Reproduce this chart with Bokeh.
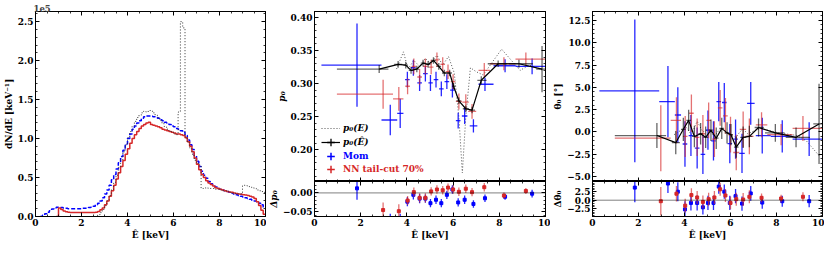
import numpy as np
from bokeh.plotting import figure
from bokeh.layouts import row, column
from bokeh.models import (FixedTicker, LinearAxis, Range1d, Legend, LegendItem,
                          Span, ColumnDataSource, CustomJSTickFormatter)
from bokeh.embed import file_html
from bokeh.resources import INLINE

nan = float("nan")

# ---------------- spectra (0.1 keV bins, units of 1e5 counts/keV) ----------------
spec_edges = [round(0.1 * i, 1) for i in range(101)]
spec_true = [nan] * 26 + [0.0, 0.02, 0.05, 0.09,
             0.14, 0.20, 0.27, 0.35, 0.44, 0.53, 0.63, 0.73, 0.83, 0.92,
             1.01, 1.09, 1.16, 1.22, 1.27, 1.30, 1.33, 1.35, 1.34, 1.36,
             1.35, 1.33, 1.30, 1.27, 1.23, 1.19, 1.15, 1.12, 1.10, 1.08,
             1.06, 1.05, 1.34, 2.50, 2.42, 1.02, 0.95, 0.88, 0.80, 0.72,
             0.68, 0.66, 0.36, 0.36, 0.37, 0.36, 0.36, 0.36, 0.35, 0.35,
             0.34, 0.33, 0.33, 0.32, 0.31, 0.30, 0.30, 0.29, 0.29, 0.29,
             0.40, 0.40, 0.39, 0.38, 0.37, 0.36, 0.34, 0.33, 0.32, 0.31]
spec_mom = [nan, nan, 0.0, 0.015, 0.035, 0.055, 0.075, 0.095, 0.11, 0.12,
            0.12, 0.115, 0.11, 0.105, 0.10, 0.10, 0.10, 0.10, 0.10, 0.10,
            0.105, 0.105, 0.11, 0.115, 0.12, 0.13, 0.15, 0.17, 0.20, 0.24,
            0.29, 0.34, 0.40, 0.47, 0.54, 0.61, 0.69, 0.77, 0.85, 0.93,
            1.00, 1.06, 1.12, 1.16, 1.20, 1.23, 1.26, 1.28, 1.29, 1.29,
            1.285, 1.28, 1.27, 1.26, 1.24, 1.23, 1.21, 1.20, 1.18, 1.16,
            1.15, 1.13, 1.12, 1.10, 1.08, 1.04, 0.98, 0.92, 0.86, 0.78,
            0.71, 0.64, 0.58, 0.53, 0.49, 0.45, 0.42, 0.40, 0.38, 0.36,
            0.35, 0.34, 0.33, 0.32, 0.31, 0.30, 0.29, 0.28, 0.27, 0.26,
            0.25, 0.24, 0.23, 0.22, 0.21, 0.20, 0.19, 0.17, 0.15, 0.12]
spec_nn = [nan] * 9 + [0.0,
           0.11, 0.09, 0.07, 0.06, 0.055, 0.05, 0.05, 0.05, 0.05, 0.05,
           0.05, 0.05, 0.05, 0.05, 0.05, 0.05, 0.055, 0.065, 0.085, 0.11,
           0.15, 0.20, 0.26, 0.33, 0.40, 0.48, 0.56, 0.64, 0.72, 0.80,
           0.87, 0.94, 1.00, 1.05, 1.09, 1.13, 1.16, 1.18, 1.20, 1.21,
           1.18, 1.17, 1.16, 1.15, 1.14, 1.12, 1.11, 1.10, 1.09, 1.08,
           1.07, 1.06, 1.06, 1.05, 1.04, 1.01, 0.96, 0.90, 0.83, 0.75,
           0.67, 0.60, 0.54, 0.50, 0.46, 0.43, 0.41, 0.39, 0.37, 0.36,
           0.35, 0.34, 0.33, 0.32, 0.315, 0.31, 0.30, 0.295, 0.29, 0.285,
           0.28, 0.275, 0.27, 0.26, 0.25, 0.23, 0.19, 0.14, 0.08, 0.03]

# ---------------- true-energy curve p0(E), theta0(E) ----------------
E_true = [3.55, 3.85, 4.05, 4.30, 4.55, 4.80, 5.05, 5.30, 5.55, 5.80, 6.05,
          6.25, 6.40, 6.55, 6.75, 7.00, 7.30, 8.10, 8.90, 9.30, 9.90]
p0_true = [0.322, 0.348, 0.322, 0.335, 0.326, 0.338, 0.330, 0.343, 0.328, 0.341, 0.316,
           0.250, 0.165, 0.250, 0.324, 0.318, 0.313, 0.352, 0.320, 0.328, 0.320]
th0_true = [-0.3, 0.2, 0.6, -0.3, 1.2, 0.0, 0.3, -0.5, 0.4, 0.1, -0.4,
            -0.6, 0.0, 0.3, -0.2, 0.1, 0.4, -0.1, -0.4, -1.0, -2.8]

# ---------------- reconstructed-energy (black) ----------------
E_hat = [2.80, 3.62, 3.95, 4.18, 4.43, 4.70, 4.92, 5.15, 5.38, 5.62, 5.85, 6.02,
         6.25, 6.55, 6.82, 7.22, 7.95, 8.85, 9.85]
E_hat_lo = [0.97, 3.45, 3.85, 4.08, 4.33, 4.60, 4.82, 5.05, 5.28, 5.52, 5.75, 5.95,
            6.15, 6.42, 6.70, 7.05, 7.50, 8.40, 9.60]
E_hat_hi = [3.20, 3.80, 4.05, 4.28, 4.53, 4.80, 5.02, 5.25, 5.48, 5.72, 5.95, 6.10,
            6.35, 6.68, 6.95, 7.45, 8.35, 9.45, 10.0]
p0_hat = [0.322, 0.329, 0.328, 0.320, 0.322, 0.331, 0.329, 0.335, 0.326, 0.316, 0.316, 0.296,
          0.274, 0.262, 0.260, 0.305, 0.330, 0.330, 0.322]
p0_hat_err = [0.006, 0.005, 0.005, 0.005, 0.005, 0.005, 0.005, 0.005, 0.005, 0.005, 0.005, 0.005,
              0.005, 0.005, 0.005, 0.006, 0.005, 0.006, 0.035]
th0_hat = [-0.4, -1.2, 0.3, 1.3, -0.5, -0.2, -0.6, 0.2, -0.7, 0.4, -0.1, -0.3,
           -1.7, -0.6, -0.5, 0.5, -0.1, -0.6, 0.9]
th0_hat_err = [1.4, 1.3, 1.3, 1.2, 1.2, 1.2, 1.2, 1.2, 1.2, 1.2, 1.2, 1.2,
               1.2, 1.2, 1.2, 1.0, 1.0, 1.1, 4.5]

# ---------------- Mom (blue) ----------------
E_mom = [1.84, 3.28, 3.71, 4.02, 4.28, 4.55, 4.80, 5.02, 5.26, 5.49, 5.73, 5.97,
         6.22, 6.50, 6.88, 7.38, 8.25, 9.42]
E_mom_lo = [0.30, 2.90, 3.58, 3.92, 4.18, 4.45, 4.70, 4.93, 5.16, 5.39, 5.63, 5.87,
            6.12, 6.38, 6.72, 7.10, 7.75, 8.70]
E_mom_hi = [2.90, 3.58, 3.85, 4.12, 4.38, 4.65, 4.90, 5.12, 5.36, 5.59, 5.83, 6.07,
            6.32, 6.62, 7.05, 7.75, 8.70, 10.0]
p0_mom = [0.328, 0.245, 0.255, 0.306, 0.324, 0.301, 0.315, 0.301, 0.306, 0.292, 0.303, 0.290,
          0.244, 0.251, 0.236, 0.299, 0.327, 0.326]
p0_mom_err = [0.063, 0.023, 0.022, 0.012, 0.012, 0.012, 0.012, 0.012, 0.012, 0.011, 0.011, 0.011,
              0.012, 0.012, 0.010, 0.010, 0.010, 0.012]
dp0_mom = [0.012, -0.075, -0.080, -0.023, -0.005, -0.015, -0.015, -0.027, -0.018, -0.027, -0.005, 0.009,
           -0.025, -0.018, -0.029, -0.014, -0.010, -0.002]
dp0_mom_err = [0.030, 0.020, 0.025, 0.012, 0.012, 0.012, 0.011, 0.011, 0.011, 0.011, 0.011, 0.011,
               0.011, 0.011, 0.010, 0.010, 0.008, 0.010]
th0_mom = [4.6, 3.4, 1.9, -1.35, -0.4, -1.8, -2.5, 0.2, -1.0, 3.4, 3.3, -1.3,
           -0.8, -2.4, 3.2, -0.4, -0.5, -0.8]
th0_mom_err = [8.0, 4.0, 3.1, 2.55, 2.3, 2.3, 2.2, 2.2, 2.2, 2.2, 2.2, 2.2,
               2.2, 2.2, 2.4, 2.0, 1.8, 1.9]
dth0_mom = [3.7, 4.9, 2.5, -2.7, -0.8, -0.8, -2.1, -0.8, -0.8, 4.0, 2.5, -0.8,
            1.2, -1.0, 2.0, -0.7, -0.3, -0.3]
dth0_mom_err = [4.3, 2.8, 2.8, 2.4, 2.2, 2.2, 2.1, 2.1, 2.1, 2.1, 2.1, 2.1,
                2.1, 2.1, 2.2, 1.8, 1.6, 1.8]

# ---------------- NN tail-cut 70% (red) ----------------
E_nn = [2.97, 3.65, 4.03, 4.30, 4.55, 4.80, 5.05, 5.30, 5.55, 5.78, 6.00, 6.25,
        6.55, 6.82, 7.35, 8.20, 9.15]
E_nn_lo = [0.97, 3.40, 3.93, 4.20, 4.45, 4.70, 4.95, 5.20, 5.45, 5.68, 5.90, 6.12,
           6.40, 6.65, 7.10, 7.60, 8.70]
E_nn_hi = [3.40, 3.85, 4.13, 4.40, 4.65, 4.90, 5.15, 5.40, 5.65, 5.88, 6.10, 6.38,
           6.68, 7.00, 7.60, 8.70, 10.0]
p0_nn = [0.284, 0.277, 0.296, 0.326, 0.310, 0.326, 0.325, 0.336, 0.329, 0.318, 0.303, 0.273,
         0.272, 0.258, 0.320, 0.330, 0.337]
p0_nn_err = [0.022, 0.018, 0.012, 0.012, 0.012, 0.012, 0.011, 0.011, 0.011, 0.011, 0.011, 0.012,
             0.012, 0.011, 0.011, 0.010, 0.010]
dp0_nn = [-0.045, -0.048, -0.020, 0.002, -0.013, -0.013, 0.004, 0.009, 0.007, 0.014, 0.009, 0.003,
          0.011, 0.002, 0.015, -0.007, 0.005]
dp0_nn_err = [0.020, 0.018, 0.012, 0.012, 0.012, 0.012, 0.011, 0.011, 0.011, 0.011, 0.011, 0.011,
              0.011, 0.011, 0.011, 0.008, 0.008]
th0_nn = [-0.7, 1.3, -0.5, 2.1, -0.6, -0.2, 1.3, -0.8, 2.7, 1.8, -0.3, -2.3,
          0.3, -0.5, 0.8, -0.3, 0.4]
th0_nn_err = [3.7, 2.6, 2.3, 2.1, 2.1, 2.1, 2.0, 2.0, 2.0, 2.0, 2.0, 2.0,
              2.0, 2.0, 1.4, 1.2, 1.4]
dth0_nn = [-0.3, 1.9, -1.6, 1.5, 0.8, -0.5, 0.3, 0.8, 3.2, 1.4, -0.8, 0.3,
           0.2, 1.0, 0.7, 0.5, 1.0]
dth0_nn_err = [4.2, 2.3, 2.0, 2.0, 1.9, 1.9, 1.9, 1.9, 1.9, 1.9, 1.9, 1.9,
               1.9, 1.9, 1.3, 1.1, 1.3]

# ---------------- ticks ----------------
x_ticks = [0, 2, 4, 6, 8, 10]
x_minor = [0.5 * i for i in range(21)]
spec_ticks = [0.0, 0.5, 1.0, 1.5, 2.0, 2.5]
spec_minor = [0.1 * i for i in range(27)]
p0_ticks = [0.20, 0.25, 0.30, 0.35, 0.40]
p0_minor = [0.01 * i for i in range(15, 41)]
dp0_ticks = [-0.05, 0.0]
dp0_minor = [0.01 * i for i in range(-6, 4)]
th0_ticks = [-5.0, -2.5, 0.0, 2.5, 5.0, 7.5, 10.0, 12.5]
th0_minor = [0.5 * i for i in range(-11, 28)]
dth0_ticks = [-2.5, 0.0, 2.5]
dth0_minor = [0.5 * i for i in range(-9, 12)]

FONT = "DejaVu Serif"
TICK_FS = "9px"
LAB_FS = "9px"
BLUE = "#0000ff"
RED = "#d62728"
BLACK = "#000000"
GRAY = "#555555"
DOT = "1 2"
TOP = 11


def fmt(d):
    return CustomJSTickFormatter(code="return tick.toFixed(%d).replace('-', '\\u2212');" % d)


def style_axis(ax, ticks, minor, show=True, label=None, digits=0, italic=False):
    ax.ticker = FixedTicker(ticks=ticks, minor_ticks=minor)
    ax.axis_line_color = "black"
    ax.axis_line_width = 1
    ax.major_tick_in = 4
    ax.major_tick_out = 0
    ax.minor_tick_in = 2
    ax.minor_tick_out = 0
    ax.major_tick_line_width = 1
    ax.minor_tick_line_width = 0.8
    if show:
        ax.formatter = fmt(digits)
        ax.major_label_text_font = FONT
        ax.major_label_text_font_size = TICK_FS
        ax.major_label_text_font_style = "bold"
        ax.major_label_text_color = "black"
        ax.major_label_standoff = 2
        if label is not None:
            ax.axis_label = label
            ax.axis_label_text_font = FONT
            ax.axis_label_text_font_size = LAB_FS
            ax.axis_label_text_font_style = "bold italic" if italic else "bold"
            ax.axis_label_text_color = "black"
            ax.axis_label_standoff = 1
    else:
        ax.formatter = CustomJSTickFormatter(code="return '';")
        ax.major_label_text_font_size = "1px"
        ax.major_label_standoff = 0
        ax.axis_label = None


def make_fig(fw, fh, xr, yr, b):
    p = figure(frame_width=fw, frame_height=fh, x_range=Range1d(*xr), y_range=Range1d(*yr),
               output_backend="svg", toolbar_location=None,
               min_border_left=b[0], min_border_right=b[1], min_border_top=b[2], min_border_bottom=b[3])
    p.grid.visible = False
    p.outline_line_color = "black"
    p.outline_line_width = 1
    p.background_fill_color = "white"
    p.border_fill_color = "white"
    p.add_layout(LinearAxis(), "above")
    p.add_layout(LinearAxis(), "right")
    return p


def errbars(p, x, y, xlo, xhi, yerr, color, alpha, lw=1.3, horiz=True, marker=False):
    src = ColumnDataSource(dict(x=x, y=y, xlo=xlo if xlo else x, xhi=xhi if xhi else x,
                                ylo=[a - e for a, e in zip(y, yerr)],
                                yhi=[a + e for a, e in zip(y, yerr)]))
    if horiz:
        p.segment(x0="xlo", y0="y", x1="xhi", y1="y", source=src,
                  line_color=color, line_alpha=alpha, line_width=lw)
    p.segment(x0="x", y0="ylo", x1="x", y1="yhi", source=src,
              line_color=color, line_alpha=alpha, line_width=lw)
    if marker:
        p.scatter(x="x", y="y", source=src, marker="square", size=3,
                  fill_color=color, line_color=color)


# ================= left panel: spectrum =================
pL = make_fig(230, 205, (0, 10), (0, 2.63), (31, 1, TOP, 27))
pL.title.text = "1e5"
pL.title.align = "left"
pL.title.text_font = FONT
pL.title.text_font_style = "bold"
pL.title.text_font_size = "8.5px"
pL.title.standoff = 0
pL.title.offset = -2
style_axis(pL.below[0], x_ticks, x_minor, True, "Ê [keV]", 0)
style_axis(pL.left[0], spec_ticks, spec_minor, True, "dN/dE [keV⁻¹]", 1)
style_axis(pL.above[0], x_ticks, x_minor, False)
style_axis(pL.right[0], spec_ticks, spec_minor, False)

pL.step(x=spec_edges, y=spec_mom + [spec_mom[-1]], mode="after",
        line_color=BLUE, line_width=1.5, line_dash="4 2")
pL.step(x=spec_edges, y=spec_nn + [spec_nn[-1]], mode="after",
        line_color=RED, line_width=1.5)
pL.step(x=spec_edges, y=spec_true + [spec_true[-1]], mode="after",
        line_color="#333333", line_width=1, line_dash=DOT)

# ================= middle panel: p0 =================
pM = make_fig(231, 170, (0, 10), (0.152, 0.409), (44, 5, TOP, 0))
style_axis(pM.below[0], x_ticks, x_minor, False)
style_axis(pM.left[0], p0_ticks, p0_minor, True, "p₀", 2, italic=True)
style_axis(pM.above[0], x_ticks, x_minor, False)
style_axis(pM.right[0], p0_ticks, p0_minor, False)

pM.line(E_true, p0_true, line_color=GRAY, line_width=1, line_dash=DOT)
errbars(pM, E_mom, p0_mom, E_mom_lo, E_mom_hi, p0_mom_err, BLUE, 0.85)
errbars(pM, E_nn, p0_nn, E_nn_lo, E_nn_hi, p0_nn_err, RED, 0.65)
errbars(pM, E_hat, p0_hat, E_hat_lo, E_hat_hi, p0_hat_err, BLACK, 0.6)
pM.line(E_hat, p0_hat, line_color=BLACK, line_width=1.2)

# legend proxies (single NaN point, never visible in the plot)
lg_true = pM.line([nan], [nan], line_color=GRAY, line_width=1, line_dash=DOT)
lg_hat_l = pM.line([nan], [nan], line_color=BLACK, line_width=1.2)
lg_hat_c = pM.scatter([nan], [nan], marker="cross", size=8, line_color=BLACK, line_width=1.3)
lg_mom = pM.scatter([nan], [nan], marker="cross", size=8, line_color=BLUE, line_width=1.5)
lg_nn = pM.scatter([nan], [nan], marker="cross", size=8, line_color=RED, line_width=1.5)


def add_legend(p, rends, text, color, y, style="bold"):
    leg = Legend(items=[LegendItem(label=text, renderers=rends)], location=(7, y),
                 glyph_width=19, glyph_height=20, label_standoff=3, padding=0, margin=0,
                 spacing=0, border_line_alpha=0, background_fill_alpha=0,
                 label_text_font=FONT, label_text_font_size="9px",
                 label_text_font_style=style, label_text_color=color, label_height=20)
    p.add_layout(leg)


add_legend(pM, [lg_true], "p₀(E)", BLACK, 43, "bold italic")
add_legend(pM, [lg_hat_l, lg_hat_c], "p₀(Ê)", BLACK, 29, "bold italic")
add_legend(pM, [lg_mom], "Mom", BLUE, 15)
add_legend(pM, [lg_nn], "NN tail-cut 70%", RED, 2)

pMr = make_fig(231, 35, (0, 10), (-0.062, 0.030), (44, 5, 0, 27))
style_axis(pMr.below[0], x_ticks, x_minor, True, "Ê [keV]", 0)
style_axis(pMr.left[0], dp0_ticks, dp0_minor, True, "Δp₀", 2, italic=True)
style_axis(pMr.above[0], x_ticks, x_minor, False)
style_axis(pMr.right[0], dp0_ticks, dp0_minor, False)
pMr.add_layout(Span(location=0, dimension="width", line_color="black", line_width=1, line_dash="1 1"))
errbars(pMr, E_mom, dp0_mom, None, None, dp0_mom_err, BLUE, 0.85, horiz=False, marker=True)
errbars(pMr, E_nn, dp0_nn, None, None, dp0_nn_err, RED, 0.65, horiz=False, marker=True)

# ================= right panel: theta0 =================
pR = make_fig(230, 170, (0, 10), (-5.55, 13.5), (41, 2, TOP, 0))
style_axis(pR.below[0], x_ticks, x_minor, False)
style_axis(pR.left[0], th0_ticks, th0_minor, True, "θ₀ [°]", 1)
style_axis(pR.above[0], x_ticks, x_minor, False)
style_axis(pR.right[0], th0_ticks, th0_minor, False)

pR.line(E_true, th0_true, line_color=GRAY, line_width=1, line_dash=DOT)
errbars(pR, E_mom, th0_mom, E_mom_lo, E_mom_hi, th0_mom_err, BLUE, 0.85)
errbars(pR, E_nn, th0_nn, E_nn_lo, E_nn_hi, th0_nn_err, RED, 0.65)
errbars(pR, E_hat, th0_hat, E_hat_lo, E_hat_hi, th0_hat_err, BLACK, 0.6)
pR.line(E_hat, th0_hat, line_color=BLACK, line_width=1.2)

pRr = make_fig(230, 35, (0, 10), (-4.8, 5.5), (41, 2, 0, 27))
style_axis(pRr.below[0], x_ticks, x_minor, True, "Ê [keV]", 0)
style_axis(pRr.left[0], dth0_ticks, dth0_minor, True, "Δθ₀", 1)
style_axis(pRr.above[0], x_ticks, x_minor, False)
style_axis(pRr.right[0], dth0_ticks, dth0_minor, False)
pRr.add_layout(Span(location=0, dimension="width", line_color="black", line_width=1, line_dash="1 1"))
errbars(pRr, E_mom, dth0_mom, None, None, dth0_mom_err, BLUE, 0.85, horiz=False, marker=True)
errbars(pRr, E_nn, dth0_nn, None, None, dth0_nn_err, RED, 0.65, horiz=False, marker=True)

layout = row(pL, column(pM, pMr), column(pR, pRr))
open("out.html", "w").write(file_html(layout, INLINE))
